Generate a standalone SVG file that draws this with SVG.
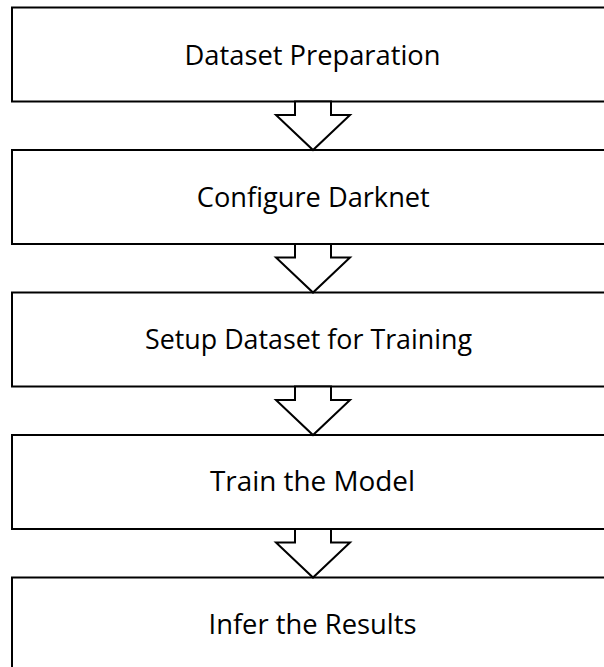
<svg xmlns="http://www.w3.org/2000/svg" width="604" height="667" viewBox="0 0 604 667">
  <style>
    .box { fill: #ffffff; stroke: #000000; stroke-width: 2; }
    .arrow { fill: #ffffff; stroke: #000000; stroke-width: 2; stroke-linejoin: miter; }
    .label { font-family: "Open Sans", "Noto Sans", sans-serif; font-size: 27px; fill: #000000; text-anchor: middle; }
  </style>
  <defs>
    <!-- block arrow: open top sits on the box above, tip touches the box below -->
    <polygon id="blockArrow" points="295,0 295,13.5 276,13.5 313,48.5 350,13.5 331,13.5 331,0"/>
  </defs>
  <rect width="604" height="667" fill="#ffffff"/>

  <g id="node-dataset-preparation">
    <rect class="box" x="12" y="7.5" width="606" height="94"/>
    <text class="label" x="312.5" y="65" textLength="256" lengthAdjust="spacingAndGlyphs">Dataset Preparation</text>
  </g>
  <g id="node-configure-darknet">
    <rect class="box" x="12" y="150" width="606" height="94"/>
    <text class="label" x="313.3" y="207" textLength="233" lengthAdjust="spacingAndGlyphs">Configure Darknet</text>
  </g>
  <g id="node-setup-dataset">
    <rect class="box" x="12" y="292.5" width="606" height="94"/>
    <text class="label" x="308.5" y="348.5" textLength="327" lengthAdjust="spacingAndGlyphs">Setup Dataset for Training</text>
  </g>
  <g id="node-train-model">
    <rect class="box" x="12" y="435" width="606" height="94"/>
    <text class="label" x="312.5" y="491" textLength="205" lengthAdjust="spacingAndGlyphs">Train the Model</text>
  </g>
  <g id="node-infer-results">
    <rect class="box" x="12" y="577.5" width="606" height="94"/>
    <text class="label" x="312.5" y="633.5" textLength="208" lengthAdjust="spacingAndGlyphs">Infer the Results</text>
  </g>

  <g id="connectors">
    <use href="#blockArrow" class="arrow" x="0" y="101.5"/>
    <use href="#blockArrow" class="arrow" x="0" y="244"/>
    <use href="#blockArrow" class="arrow" x="0" y="386.5"/>
    <use href="#blockArrow" class="arrow" x="0" y="529"/>
  </g>
</svg>
